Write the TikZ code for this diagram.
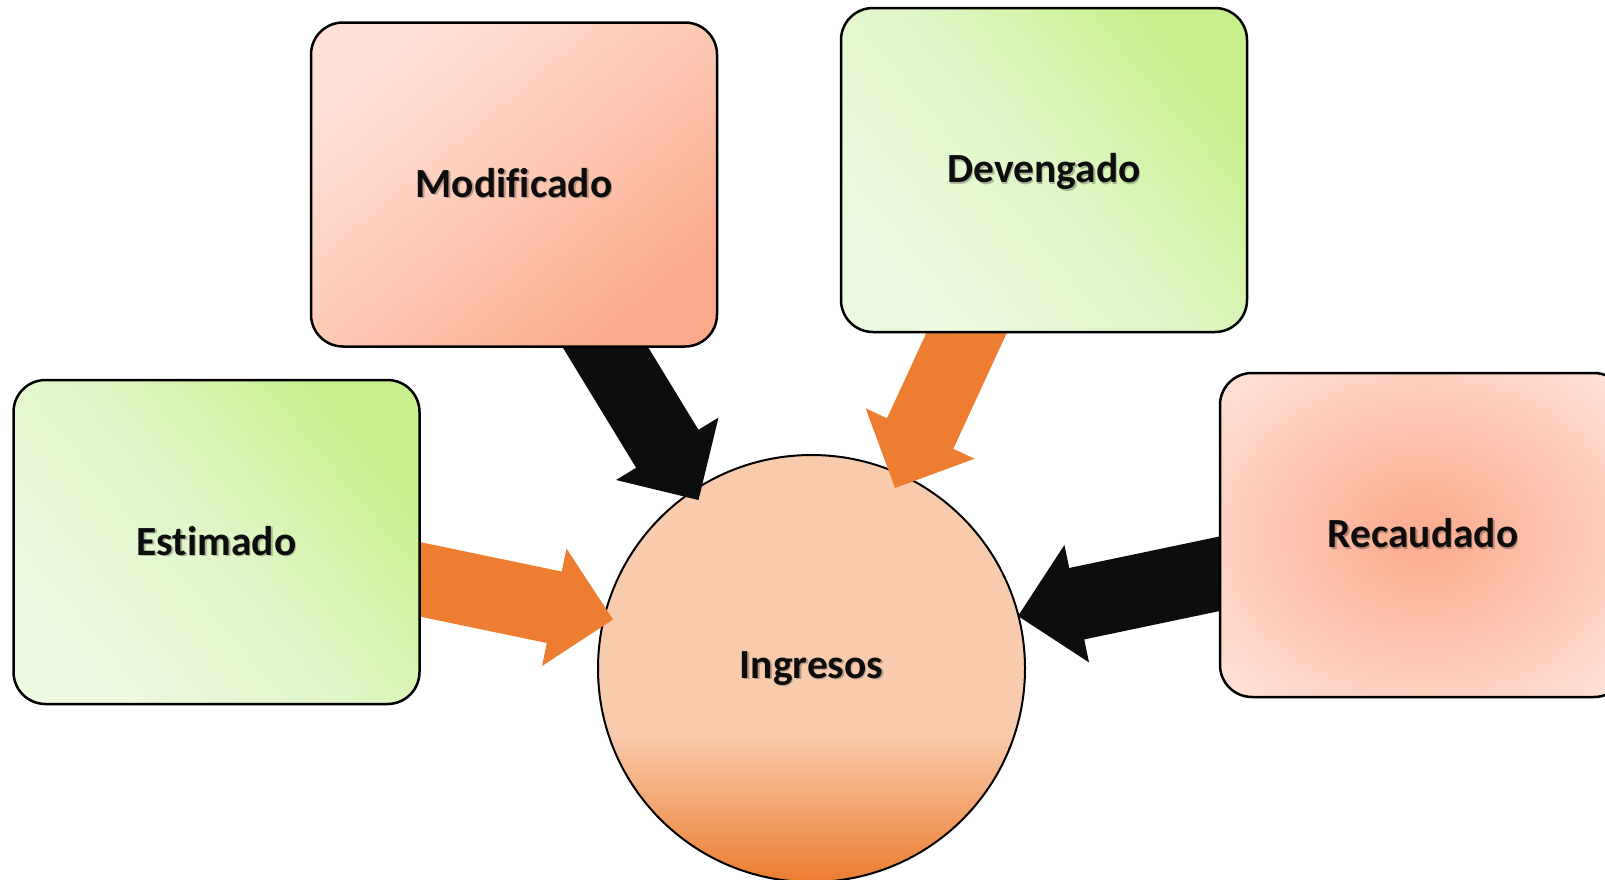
\documentclass[tikz,border=0pt]{standalone}
\usepackage{fontspec}
\setmainfont[Ligatures=NoCommon]{Carlito}
\usetikzlibrary{calc}
\definecolor{arrorange}{HTML}{ED7D31}
\definecolor{arrblack}{HTML}{0D0D0D}
\definecolor{ingpeach}{HTML}{F8CBAD}
\definecolor{ingorange}{HTML}{ED7D31}
\definecolor{modlight}{HTML}{FFE1D7}
\definecolor{modmid}{HTML}{FDC9B5}
\definecolor{moddark}{HTML}{FAAA8A}
\definecolor{grnlight}{HTML}{EEF9E1}
\definecolor{grnmid}{HTML}{E0F6C7}
\definecolor{grndark}{HTML}{C8F08D}
\definecolor{recin}{HTML}{FBB093}
\definecolor{recout}{HTML}{FFE3DA}
\pgfdeclareverticalshading{ingshade}{100bp}{color(0bp)=(ingorange); color(25bp)=(ingorange); color(42.5bp)=(ingpeach); color(100bp)=(ingpeach)}
\pgfdeclareradialshading{recshade}{\pgfpoint{0bp}{0bp}}{color(0bp)=(recin); color(4bp)=(recin); color(35bp)=(recout); color(50bp)=(recout)}
\newcommand\blockarrow[3]{%
  \coordinate (#2-#3-n) at ($(#3)!60pt!(#2)$);
  \fill[#1] ($(#2)!36.5pt!90:(#3)$) -- ($(#2-#3-n)!36.5pt!90:(#3)$) -- ($(#2-#3-n)!60pt!90:(#3)$) -- (#3) -- ($(#2-#3-n)!60pt!-90:(#3)$) -- ($(#2-#3-n)!36.5pt!-90:(#3)$) -- ($(#2)!36.5pt!-90:(#3)$) -- cycle;}
\begin{document}
\begin{tikzpicture}[x=1pt,y=-1pt,
  box/.style={draw=black, line width=2.5pt, rounded corners=32pt, minimum width=406pt, minimum height=324pt, inner sep=0pt},
  lbl/.style={font=\fontsize{41.5}{48}\selectfont\bfseries, text=arrblack, anchor=base, inner sep=0pt},
  lblshadow/.style={lbl, text=black, opacity=0.25}]
\useasboundingbox (0,0) rectangle (1605,879);
\clip (0,0) rectangle (1605,879);
% central circle
\node[circle, draw=black, line width=2pt, minimum size=427pt, inner sep=0pt, shade, shading=ingshade] (ing) at (811.5,668.5) {};
% arrows
\coordinate (s1) at (590,322);   \coordinate (t1) at (698.5,500);
\coordinate (s2) at (979,306);   \coordinate (t2) at (895,488);
\coordinate (s3) at (404,576);   \coordinate (t3) at (613,619.5);
\coordinate (s4) at (1235,570.5);\coordinate (t4) at (1018,616);
\blockarrow{arrblack}{s1}{t1}
\blockarrow{arrorange}{s2}{t2}
\blockarrow{arrorange}{s3}{t3}
\blockarrow{arrblack}{s4}{t4}
% boxes
\node[box, top color=modlight, bottom color=moddark, middle color=modmid, shading angle=40] (mod) at (514,184.5) {};
\node[box, top color=grndark, bottom color=grnlight, middle color=grnmid, shading angle=-50] (dev) at (1044,170) {};
\node[box, top color=grndark, bottom color=grnlight, middle color=grnmid, shading angle=-50] (est) at (216.5,542) {};
\node[box, shade, shading=recshade] (rec) at (1423,535) {};
% labels
\node[lblshadow] (modsh) at (515.5,198.5) {Modif\kern0pt icado};
\node[lbl] (modtxt) at (514,197) {Modif\kern0pt icado};
\node[lblshadow] (devsh) at (1045.5,184) {Devengado};
\node[lbl] (devtxt) at (1044,182.5) {Devengado};
\node[lblshadow] (estsh) at (218,556.5) {Estimado};
\node[lbl] (esttxt) at (216.5,555) {Estimado};
\node[lblshadow] (recsh) at (1424.5,549) {Recaudado};
\node[lbl] (rectxt) at (1423,547.5) {Recaudado};
\node[lblshadow] (ingsh) at (813,679.5) {Ingresos};
\node[lbl] (ingtxt) at (811.5,678) {Ingresos};
\end{tikzpicture}
\end{document}
